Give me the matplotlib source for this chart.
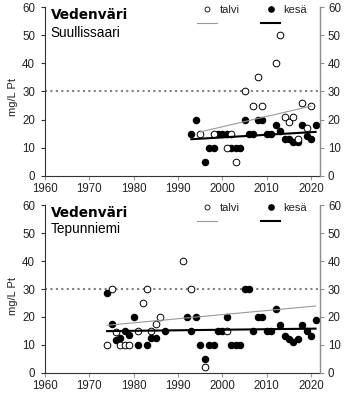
import matplotlib
matplotlib.use("Agg")
import matplotlib.pyplot as plt
from matplotlib.lines import Line2D

plt.rcParams['font.family'] = ['Liberation Sans', 'DejaVu Sans']

# ---- data: Suullissaari ----
s_talvi_year = [1995, 1998, 2001, 2002, 2003, 2005, 2007, 2008, 2009, 2012, 2013,
                2014, 2015, 2016, 2017, 2018, 2019, 2020]
s_talvi_val = [15, 15, 10, 15, 5, 30, 25, 35, 25, 40, 50,
               21, 19, 21, 13, 26, 17, 25]
s_kesa_year = [1993, 1994, 1996, 1997, 1998, 1999, 2000, 2001, 2002, 2003, 2004,
               2005, 2006, 2007, 2008, 2009, 2010, 2011, 2012, 2013, 2014, 2015,
               2016, 2017, 2018, 2019, 2020, 2021]
s_kesa_val = [15, 20, 5, 10, 10, 15, 15, 15, 10, 10, 10,
              20, 15, 15, 20, 20, 15, 15, 18, 16, 13, 13,
              12, 12, 18, 14, 13, 18]
s_talvi_trend_x = [1995, 2020]
s_talvi_trend_y = [15.6, 24.8]
s_kesa_trend_x = [1993, 2021]
s_kesa_trend_y = [13.0, 15.6]

# ---- data: Tepunniemi ----
t_talvi_year = [1974, 1975, 1976, 1977, 1978, 1979, 1981, 1982, 1983, 1984, 1985,
                1986, 1991, 1993, 1996, 2001]
t_talvi_val = [10, 30, 14.5, 10, 10, 10, 15, 25, 30, 15, 17.5,
               20, 40, 30, 2, 15]
t_kesa_year = [1974, 1975, 1976, 1977, 1978, 1979, 1980, 1981, 1983, 1984, 1985,
               1987, 1992, 1993, 1994, 1995, 1996, 1997, 1998, 1999, 2000, 2001,
               2002, 2003, 2004, 2005, 2006, 2007, 2008, 2009, 2010, 2011, 2012,
               2013, 2014, 2015, 2016, 2017, 2018, 2019, 2020, 2021]
t_kesa_val = [28.5, 17.5, 11.7, 12.5, 15, 13.5, 20, 10, 10, 12.5, 12.5,
              15, 20, 15, 20, 10, 5, 10, 10, 15, 15, 20,
              10, 10, 10, 30, 30, 15, 20, 20, 15, 15, 23,
              17, 13, 12, 11, 12, 17, 15, 13, 19]
t_talvi_trend_x = [1974, 2021]
t_talvi_trend_y = [17.0, 23.9]
t_kesa_trend_x = [1974, 2021]
t_kesa_trend_y = [14.9, 15.8]

threshold = 30
title = "Vedenväri"
sites = ["Suullissaari", "Tepunniemi"]
ylabel = "mg/L Pt"
xticks = [1960, 1970, 1980, 1990, 2000, 2010, 2020]
yticks = [0, 10, 20, 30, 40, 50, 60]
legend_labels = ["talvi", "kesä"]

fig = plt.figure(figsize=(3.5, 3.96), dpi=100)
positions = [[0.1286, 0.5563, 0.7857, 0.4253], [0.1286, 0.0588, 0.7857, 0.4228]]
panels = [
    (s_talvi_year, s_talvi_val, s_kesa_year, s_kesa_val,
     s_talvi_trend_x, s_talvi_trend_y, s_kesa_trend_x, s_kesa_trend_y),
    (t_talvi_year, t_talvi_val, t_kesa_year, t_kesa_val,
     t_talvi_trend_x, t_talvi_trend_y, t_kesa_trend_x, t_kesa_trend_y),
]
tick_fs = 8.3
txt_col = '#222222'
grey = '#8c8c8c'

for i, (pos, site, data) in enumerate(zip(positions, sites, panels)):
    ty, tv, ky, kv, ttx, tty, ktx, kty = data
    ax = fig.add_axes(pos)
    ax.set_xlim(1960, 2022)
    ax.set_ylim(0, 60)
    ax.axhline(threshold, color='#808080', linestyle=(0, (1, 1.6)), linewidth=1.5, zorder=1)
    ax.plot(ky, kv, 'o', color='black', markersize=4.4, zorder=3)
    ax.plot(ty, tv, 'o', markerfacecolor='white', markeredgecolor='black',
            markeredgewidth=0.7, markersize=4.8, zorder=3)
    ax.plot(ttx, tty, color='#999999', linewidth=0.8, zorder=4)
    ax.plot(ktx, kty, color='black', linewidth=1.5, zorder=4)

    for s in ['top', 'right']:
        ax.spines[s].set_visible(False)
    ax.spines['left'].set_color('#333333')
    ax.spines['bottom'].set_color('#333333')
    ax.spines['left'].set_linewidth(0.8)
    ax.spines['bottom'].set_linewidth(0.8)
    ax.set_xticks(xticks)
    ax.set_yticks(yticks)
    ax.tick_params(axis='x', direction='out', length=3, width=0.8, color='#999999',
                   labelsize=tick_fs, labelcolor=txt_col, pad=2)
    ax.tick_params(axis='y', direction='out', length=3.2, width=0.8, color='#333333',
                   labelsize=tick_fs, labelcolor=txt_col, pad=4)

    ax2 = ax.twinx()
    ax2.set_ylim(0, 60)
    ax2.set_yticks(yticks)
    for s in ['top', 'left', 'bottom']:
        ax2.spines[s].set_visible(False)
    ax2.spines['right'].set_color(grey)
    ax2.spines['right'].set_linewidth(1.0)
    ax2.tick_params(axis='y', direction='out', length=3.2, width=0.8, color=grey,
                    labelsize=tick_fs, labelcolor=txt_col, pad=2.5)

    ax.text(0.021, 0.929 if i == 0 else 0.932, title, transform=ax.transAxes,
            fontsize=9.8, fontweight='bold', family='DejaVu Sans', color='black',
            ha='left', va='baseline')
    ax.text(0.021, 0.825 if i == 0 else 0.833, site, transform=ax.transAxes,
            fontsize=9.8, color='black', ha='left', va='baseline')

    handles = [
        Line2D([], [], marker='o', linestyle='none', markerfacecolor='white',
               markeredgecolor='black', markeredgewidth=0.6, markersize=3.6),
        Line2D([], [], color='#999999', linewidth=0.8),
        Line2D([], [], marker='o', linestyle='none', color='black', markersize=3.8),
        Line2D([], [], color='black', linewidth=1.5),
    ]
    labels = [legend_labels[0], " ", legend_labels[1], " "]
    leg = ax.legend(handles, labels, ncol=2, loc='upper left',
                    bbox_to_anchor=(0.553, 1.013), frameon=False, fontsize=8,
                    handlelength=1.75, handletextpad=0.3, columnspacing=1.9,
                    labelspacing=0.38, borderpad=0, borderaxespad=0)
    for t in leg.get_texts():
        t.set_color(txt_col)

    fig.text(13 / 350, 1 - (96.5 if i == 0 else 296) / 396, ylabel, rotation=90,
             ha='center', va='center', fontsize=8, color=txt_col)

fig.savefig("out.png", dpi=100)
